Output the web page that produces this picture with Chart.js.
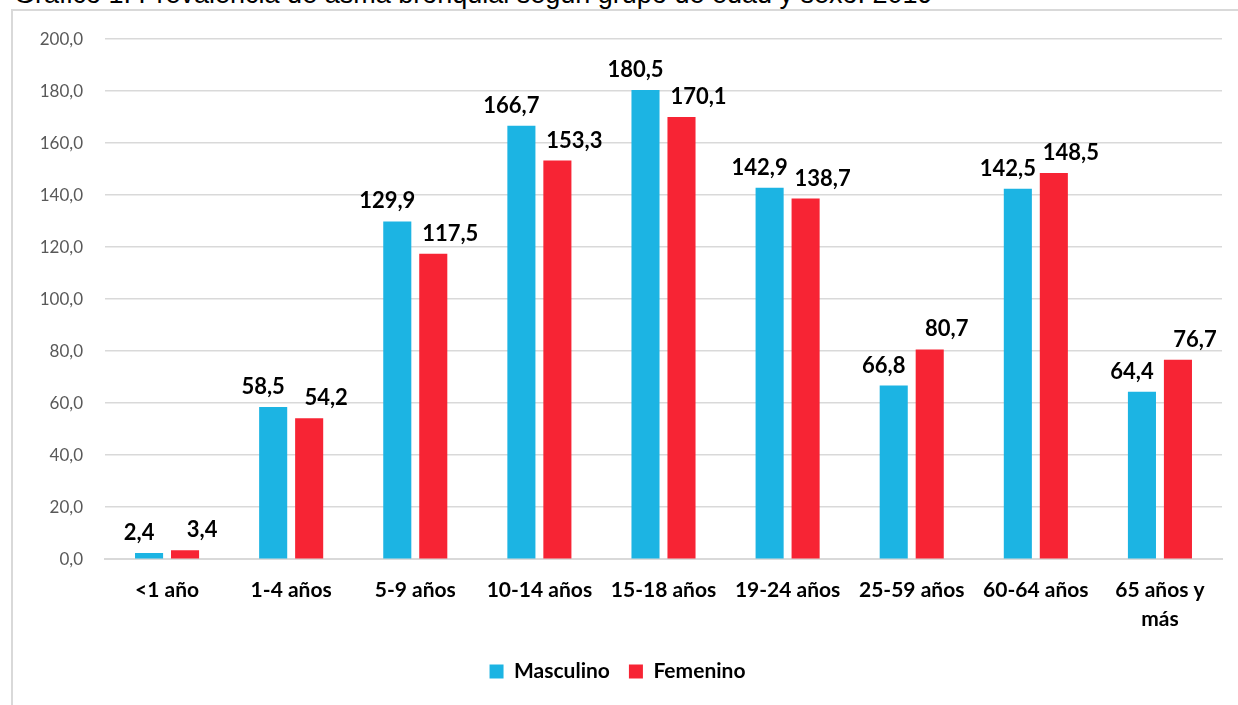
<!DOCTYPE html>
<html>
<head>
<meta charset="utf-8">
<script src="https://cdn.jsdelivr.net/npm/chart.js@4/dist/chart.umd.min.js"></script>
<style>
  body { margin: 0; background: #fff; width: 1238px; height: 705px; overflow: hidden; position: relative; }
  #title { position: absolute; left: 14px; top: -21px; font: 27px "Liberation Sans", Arial, sans-serif; line-height: 30px; color: #000; white-space: nowrap; }
  #frame { position: absolute; left: 11px; top: 9px; width: 1300px; height: 800px; border: 1px solid #d9d9d9; box-sizing: border-box; border-width: 2px 0 0 2px; background: #fff; }
  #wrap { position: absolute; left: 13px; top: 7px; width: 1225px; height: 698px; }
</style>
</head>
<body>
<div id="title">Gráfico 1. Prevalencia de asma bronquial según grupo de edad y sexo. 2019</div>
<div id="frame"></div>
<div id="wrap"><canvas id="chart"></canvas></div>
<script>
const categories = ['<1 año', '1-4 años', '5-9 años', '10-14 años', '15-18 años', '19-24 años', '25-59 años', '60-64 años', ['65 años y', 'más']];
const masculino = [2.4, 58.5, 129.9, 166.7, 180.5, 142.9, 66.8, 142.5, 64.4];
const femenino = [3.4, 54.2, 117.5, 153.3, 170.1, 138.7, 80.7, 148.5, 76.7];

const fmt = v => v.toFixed(1).replace('.', ',');

// etiquetas de valor encima de cada barra (algo separadas hacia fuera, como en el original)
const labelShift = [-10, 17];
const valueLabels = {
    id: 'valueLabels',
    afterDatasetsDraw(chart) {
        const c = chart.ctx;
        c.save();
        c.font = 'bold 22px Lato';
        c.fillStyle = '#000';
        c.textAlign = 'center';
        c.textBaseline = 'alphabetic';
        chart.data.datasets.forEach((ds, i) => {
            chart.getDatasetMeta(i).data.forEach((bar, j) => {
                c.fillText(fmt(ds.data[j]), bar.x + labelShift[i], bar.y - 13);
            });
        });
        c.restore();
    }
};

new Chart(document.getElementById('chart').getContext('2d'), {
    type: 'bar',
    data: {
        labels: categories,
        datasets: [
            { label: 'Masculino', data: masculino, backgroundColor: '#1cb4e3' },
            { label: 'Femenino', data: femenino, backgroundColor: '#f72434' }
        ]
    },
    options: {
        responsive: true,
        maintainAspectRatio: false,
        animation: false,
        categoryPercentage: 0.58,
        barPercentage: 0.78,
        layout: { padding: { top: 11, right: 16, left: 0, bottom: 13 } },
        plugins: {
            tooltip: { enabled: false },
            legend: {
                position: 'bottom',
                labels: {
                    font: { family: 'Lato', size: 21, weight: 'bold' },
                    color: '#000',
                    boxWidth: 14,
                    boxHeight: 14,
                    padding: 19
                }
            }
        },
        scales: {
            x: {
                grid: { display: false },
                border: { color: '#d9d9d9', width: 2 },
                ticks: { font: { family: 'Lato', size: 21, weight: 'bold', lineHeight: 1.4 }, color: '#000', padding: 8, maxRotation: 0 }
            },
            y: {
                min: 0,
                max: 200,
                border: { display: false },
                grid: { color: '#d9d9d9', lineWidth: 1.5, drawTicks: false },
                ticks: {
                    stepSize: 20,
                    font: { family: 'Lato', size: 17 },
                    color: '#595959',
                    padding: 22,
                    callback: v => fmt(v)
                },
                afterFit(scale) { scale.width = 92; }
            }
        }
    },
    plugins: [valueLabels]
});
</script>
</body>
</html>
